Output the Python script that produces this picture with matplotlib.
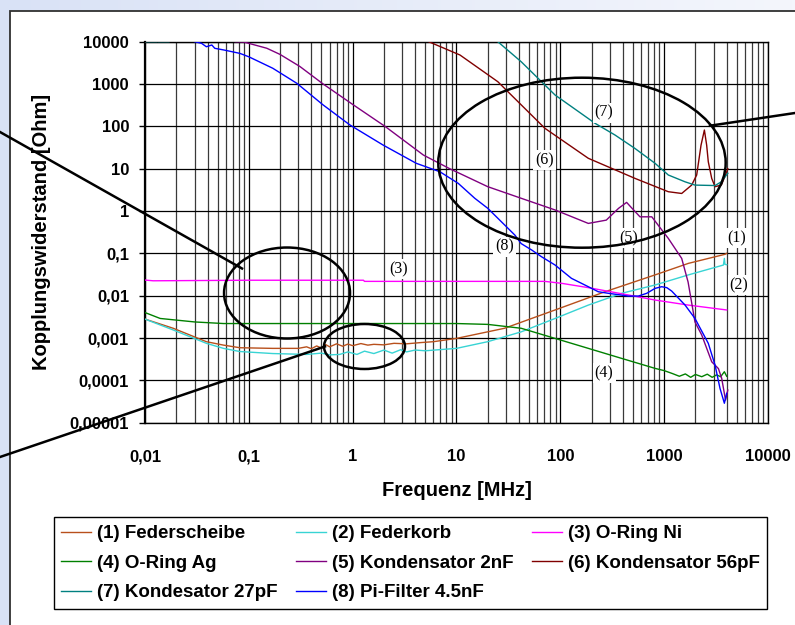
import numpy as np
import matplotlib
matplotlib.use("Agg")
import matplotlib.pyplot as plt
from matplotlib.patches import Ellipse, Rectangle
from matplotlib.lines import Line2D
from matplotlib.colors import LinearSegmentedColormap
from matplotlib.ticker import LogLocator, NullFormatter

nan = np.nan

# (1) Federscheibe
f1 = [0.01, 0.0187, 0.039, 0.057, 0.082, 0.17, 0.3, 0.36, 0.4, 0.45, 0.5, 0.55, 0.6, 0.7, 0.8, 0.9,
      1.0, 1.2, 1.4, 1.6, 2.0, 2.5, 3.3, 4.5, 6, 10, 29, 89, 269, 817, 1710, 3850, 4000]
v1 = [0.0028, 0.0017, 0.00082, 0.00068, 0.00059, 0.00057, 0.00057, 0.00062, 0.00056, 0.00065, 0.00058,
      0.0007, 0.00062, 0.00073, 0.00064, 0.00072, 0.00066, 0.00074, 0.00068, 0.00071, 0.00069, 0.00075,
      0.00073, 0.00078, 0.00082, 0.00098, 0.0017, 0.0046, 0.0124, 0.031, 0.058, 0.095, 0.1]
# (2) Federkorb
f2 = [0.01, 0.0187, 0.039, 0.057, 0.082, 0.17, 0.36, 0.5, 0.6, 0.75, 0.9, 1.1, 1.3, 1.6, 2.0, 2.4, 2.9,
      3.3, 4.0, 5.0, 10, 20, 42, 89, 186, 390, 817, 1710, 3720, 3800, 3850, 4000]
v2 = [0.0028, 0.00155, 0.00075, 0.00057, 0.00048, 0.00043, 0.00041, 0.00044, 0.0004, 0.00041, 0.00047,
      0.00041, 0.00049, 0.00043, 0.00052, 0.00044, 0.00053, 0.00047, 0.00052, 0.0005, 0.00057, 0.00082,
      0.0014, 0.0029, 0.006, 0.0114, 0.0179, 0.031, 0.053, 0.076, 0.055, 0.054]
# (3) O-Ring Ni
f3 = [0.01, 0.012, 0.1, 1.27, 1.3, 71, 103, 186, 452, 817, 1710, 4000]
v3 = [0.0234, 0.0225, 0.0232, 0.0232, 0.0218, 0.0218, 0.0196, 0.0155, 0.0104, 0.0079, 0.006, 0.0046]
# (4) O-Ring Ag
f4 = [0.01, 0.014, 0.03, 0.057, 0.2, 0.75, 3, 10, 20, 42, 89, 186, 390, 817, 1000, 1200, 1400,
      1600, 1800, 2000, 2300, 2600, 2900, 3200, 3500, 3800, 4000]
v4 = [0.004, 0.0029, 0.0024, 0.0022, 0.0022, 0.0022, 0.0022, 0.0022, 0.0021, 0.0017, 0.00098, 0.00057,
      0.00033, 0.000192, 0.00017, 0.000145, 0.000125, 0.000142, 0.000118, 0.000138, 0.000122, 0.00014,
      0.000118, 0.000135, 0.000122, 0.00016, 0.000125]
# (5) Kondensator 2nF
f5 = [0.074, 0.09, 0.149, 0.2, 0.31, 0.52, 1.0, 2.05, 4.8, 8.6, 20, 42, 89, 186, 277, 364, 435, 474,
      585, 760, 982, 1096, 1475, 1700, 1980, 2300, 2870, 3330, 3580, 3900, 4100]
v5 = [10000, 9800, 7000, 5000, 2600, 1000, 330, 100, 21, 10, 3.76, 2.0, 1.06, 0.51, 0.61, 1.16, 1.6, 1.27,
      0.73, 0.73, 0.32, 0.226, 0.076, 0.021, 0.0024, 0.00118, 0.000275, 0.00019, 0.000112, 0.0000343,
      0.000059]
# (6) Kondensator 56pF
f6 = [0.01, 0.0102, nan, 5.4, 10.8, 25, 71, 186, 524, 1096, 1475, 1840, 2057, 2265, 2440, 2566, 2660,
      2870, 3090, 3550, 3900, 4100]
v6 = [10000, 10000, nan, 10000, 4850, 1135, 90, 17.6, 5.9, 2.86, 2.6, 4.1, 7.1, 36, 82, 36, 14.6,
      5.9, 3.76, 4.1, 7.1, 10]
# (7) Kondesator 27pF
f7 = [0.01, 0.013, nan, 0.0135, 0.017, nan, 25, 42, 89, 216, 336, 524, 817, 1096, 1590, 1980, 3090,
      3550, 4100]
v7 = [10000, 10000, nan, 10000, 10000, nan, 10000, 3360, 550, 118, 62.5, 30, 13.4, 7.1, 4.9, 4.1, 4.0,
      4.9, 7.8]
# (8) Pi-Filter 4.5nF
f8 = [0.03, 0.035, 0.039, 0.044, 0.047, 0.057, 0.082, 0.1, 0.17, 0.29, 0.52, 0.94, 1.97, 4.1, 6.9,
      10.4, 15, 20, 36.5, 42, 53, 66, 89, 128, 186, 232, 290, 451, 564, 680, 817, 946, 1060, 1180,
      1590, 1980, 2660, 3090, 3450, 3800, 4000]
v8 = [10000, 9170, 7600, 8360, 6980, 6400, 5300, 4400, 2360, 1040, 320, 108, 36, 13.4, 8.5, 4.5, 2.0,
      1.16, 0.27, 0.17, 0.12, 0.083, 0.053, 0.0257, 0.0163, 0.0124, 0.0114, 0.0098, 0.0098, 0.0114,
      0.0149, 0.0163, 0.0155, 0.0129, 0.006, 0.0029, 0.00075, 0.00023, 0.0000645, 0.0000288, 0.0000493]

series = [
    ("(1) Federscheibe", f1, v1, "#B8501C"),
    ("(2) Federkorb", f2, v2, "#38D4D4"),
    ("(3) O-Ring Ni", f3, v3, "#FF00FF"),
    ("(4) O-Ring Ag", f4, v4, "#008000"),
    ("(5) Kondensator 2nF", f5, v5, "#800080"),
    ("(6) Kondensator 56pF", f6, v6, "#800000"),
    ("(7) Kondesator 27pF", f7, v7, "#008080"),
    ("(8) Pi-Filter 4.5nF", f8, v8, "#0000FF"),
]

xticks = [0.01, 0.1, 1, 10, 100, 1000, 10000]
xticklabels = ["0,01", "0,1", "1", "10", "100", "1000", "10000"]
yticks = [0.00001, 0.0001, 0.001, 0.01, 0.1, 1, 10, 100, 1000, 10000]
yticklabels = ["0,00001", "0,0001", "0,001", "0,01", "0,1", "1", "10", "100", "1000", "10000"]

# curve number labels (data coords)
tags = [("(1)", 5000, 0.226), ("(2)", 5260, 0.0179), ("(3)", 2.75, 0.042), ("(4)", 264, 0.000147),
        ("(5)", 452, 0.226), ("(6)", 70, 16), ("(7)", 264, 210), ("(8)", 29, 0.144)]

W, H = 795, 625
fig = plt.figure(figsize=(W / 100, H / 100), dpi=100)


def px(x, y):
    # pixel position -> figure fraction
    return x / W, 1 - y / H


# slide background gradient + white panel
bg = fig.add_axes([0, 0, 1, 1], zorder=-10)
cmap = LinearSegmentedColormap.from_list("bg", ["#d9e2f6", "#f4f6fc"])
bg.imshow(np.linspace(0, 1, 256).reshape(1, -1), cmap=cmap, aspect="auto", extent=[0, 1, 0, 1])
bg.axis("off")
x0, y0 = px(10, 11)
fig.add_artist(Rectangle((x0, -0.05), 1.1, y0 + 0.05, transform=fig.transFigure,
                         facecolor="white", edgecolor="#303030", lw=1.3, zorder=-5))

ax = fig.add_axes([145 / W, 1 - 422.7 / H, 623 / W, 381 / H])

for name, f, v, c in series:
    ax.plot(f, v, color=c, lw=1.0, label=name, zorder=3)

ax.set_xscale("log")
ax.set_yscale("log")
ax.set_xlim(0.01, 10000)
ax.set_ylim(0.00001, 10000)

ax.set_xticks(xticks, xticklabels)
ax.set_yticks(yticks, yticklabels)
ax.xaxis.set_minor_locator(LogLocator(base=10, subs=range(2, 10), numticks=100))
ax.xaxis.set_minor_formatter(NullFormatter())
ax.yaxis.set_minor_locator(plt.NullLocator())
ax.tick_params(axis="x", which="both", length=0, pad=19)
ax.tick_params(axis="y", which="major", length=4.5, width=1, direction="out", pad=7)
for lab in ax.get_xticklabels() + ax.get_yticklabels():
    lab.set_fontweight("bold")
    lab.set_fontsize(12)
    lab.set_family("Liberation Sans")

ax.grid(True, which="major", axis="both", color="black", lw=0.9)
ax.grid(True, which="minor", axis="x", color="#3a3a3a", lw=0.9)
ax.set_axisbelow(True)
for s in ax.spines.values():
    s.set_color("black")
    s.set_linewidth(1.0)
ax.spines["left"].set_linewidth(1.6)

ax.set_xlabel("Frequenz [MHz]", fontsize=14.5, fontweight="bold", family="Liberation Sans")
ax.set_ylabel("Kopplungswiderstand [Ohm]", fontsize=14.5, fontweight="bold", family="Liberation Sans")
ax.xaxis.set_label_coords(0.5, 1 - (490 - 41.7) / 381)
ax.xaxis.label.set_va("center")
ax.yaxis.set_label_coords((42 - 145) / 623, 0.5)
ax.yaxis.label.set_va("center")

for t, x, y in tags:
    ax.text(x, y, t, family="Liberation Serif", fontsize=11.5, ha="center", va="center", zorder=6,
            bbox=dict(facecolor="white", edgecolor="none", pad=1.5))

# ellipses (axes fraction)
for cx, cy, w, h in [(0.228, 0.3404, 0.2022, 0.2388), (0.3523, 0.200, 0.130, 0.1181),
                     (0.7014, 0.6824, 0.4613, 0.4462)]:
    ax.add_patch(Ellipse((cx, cy), w, h, transform=ax.transAxes, fill=False, ec="black",
                         lw=1.8, zorder=7, clip_on=False))

# callout lines (figure pixels)
for (xa, ya), (xb, yb) in [((0, 132), (242, 268.5)), ((0, 457), (325, 346.5)),
                           ((710, 125.7), (795, 113))]:
    pa, pb = px(xa, ya), px(xb, yb)
    fig.add_artist(Line2D([pa[0], pb[0]], [pa[1], pb[1]], transform=fig.transFigure,
                          color="black", lw=1.8, zorder=8))

handles, labels = ax.get_legend_handles_labels()
order = [0, 3, 6, 1, 4, 7, 2, 5]
leg = fig.legend([handles[i] for i in order], [labels[i] for i in order], loc="center",
                 bbox_to_anchor=(410.5 / W, 1 - 563 / H), ncol=3, fancybox=False, framealpha=1,
                 edgecolor="black", prop=dict(weight="bold", size=13.5, family="Liberation Sans"),
                 handlelength=1.6, handletextpad=0.3, columnspacing=1.0, borderpad=0.4,
                 labelspacing=0.66, borderaxespad=0)
leg.get_frame().set_linewidth(1.0)

fig.savefig("out.png", dpi=100)
